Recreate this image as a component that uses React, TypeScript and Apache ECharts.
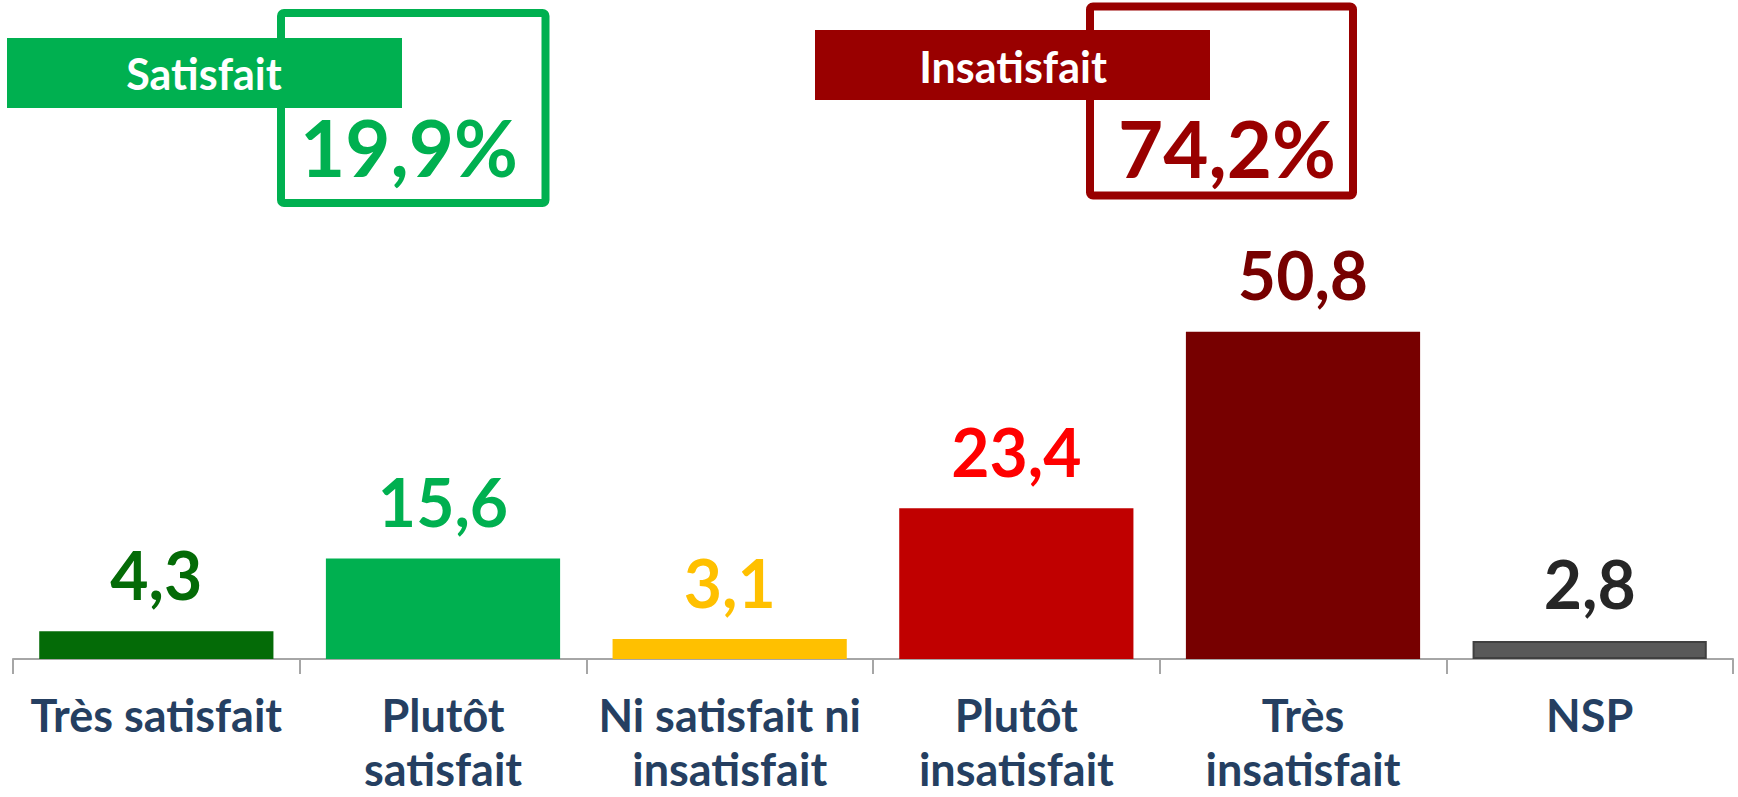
import React, { useEffect, useRef } from "react";
import * as echarts from "echarts";

const categories = [
  "Très satisfait",
  "Plutôt\nsatisfait",
  "Ni satisfait ni\ninsatisfait",
  "Plutôt\ninsatisfait",
  "Très\ninsatisfait",
  "NSP",
];
const values = [4.3, 15.6, 3.1, 23.4, 50.8, 2.8];
const barColors = ["#046B07", "#00B050", "#FFC000", "#C00000", "#770000", "#595959"];
const labelColors = ["#046B07", "#00B050", "#FFC000", "#FF0000", "#770000", "#262626"];
const summaryNames = ["Satisfait", "Insatisfait"];
const summaryValues = ["19,9%", "74,2%"];
const summaryColors = ["#00B050", "#990000"];

const FONT = "Lato, 'Open Sans', sans-serif";

export default function App() {
  const ref = useRef<HTMLDivElement>(null);
  useEffect(() => {
    if (!ref.current) return;
    const chart = echarts.init(ref.current, null, { renderer: "svg" });
    const fmt = (v: number) => v.toFixed(1).replace(".", ",");
    const boxes = [
      { rect: [7, 38, 395, 70], outline: [281, 13, 264.5, 190], textX: 204, textY: 73, valX: 518, valY: 147 },
      { rect: [815, 30, 395, 70], outline: [1090, 6.5, 263, 189], textX: 1013, textY: 66, valX: 1336, valY: 148 },
    ];
    const graphic: any[] = [];
    boxes.forEach((b, i) => {
      graphic.push({
        type: "rect",
        shape: { x: b.outline[0], y: b.outline[1], width: b.outline[2], height: b.outline[3], r: 3 },
        style: { fill: "none", stroke: summaryColors[i], lineWidth: 8 },
      });
      graphic.push({
        type: "rect",
        shape: { x: b.rect[0], y: b.rect[1], width: b.rect[2], height: b.rect[3] },
        style: { fill: summaryColors[i] },
      });
      graphic.push({
        type: "text",
        x: b.textX,
        y: b.textY,
        style: {
          text: summaryNames[i],
          fill: "#FFFFFF",
          font: `bold 43px ${FONT}`,
          textAlign: "center",
          textVerticalAlign: "middle",
        },
      });
      graphic.push({
        type: "text",
        x: b.valX,
        y: b.valY,
        style: {
          text: summaryValues[i],
          fill: summaryColors[i],
          font: `bold 78px ${FONT}`,
          textAlign: "right",
          textVerticalAlign: "middle",
        },
      });
    });
    chart.setOption({
      animation: false,
      grid: { left: 13, right: 5, top: 15, bottom: 138, containLabel: false, outerBoundsMode: "none" },
      xAxis: {
        type: "category",
        data: categories,
        boundaryGap: true,
        axisLine: { lineStyle: { color: "#A6A6A6", width: 2 } },
        axisTick: { show: true, length: 15, lineStyle: { color: "#A6A6A6", width: 2 } },
        axisLabel: {
          color: "#253F61",
          fontFamily: FONT,
          fontWeight: "bold",
          fontSize: 45,
          lineHeight: 54,
          margin: 29,
          interval: 0,
        },
      },
      yAxis: { type: "value", min: 0, max: 100, show: false, splitLine: { show: false } },
      series: [
        {
          type: "bar",
          barCategoryGap: "18.3%",
          data: values.map((v, i) => ({
            value: v,
            itemStyle: {
              color: barColors[i],
              borderColor: i === 5 ? "#404040" : undefined,
              borderWidth: i === 5 ? 2 : 0,
            },
            label: { color: labelColors[i] },
          })),
          label: {
            show: true,
            position: "top",
            distance: 24,
            fontFamily: FONT,
            fontWeight: "bold",
            fontSize: 66,
            formatter: (p: any) => fmt(p.value),
          },
        },
      ],
      graphic,
    });
    return () => chart.dispose();
  }, []);
  return (
    <div
      ref={ref}
      style={{ position: "absolute", left: 0, top: 0, width: 1738, height: 797, background: "#fff" }}
    />
  );
}
